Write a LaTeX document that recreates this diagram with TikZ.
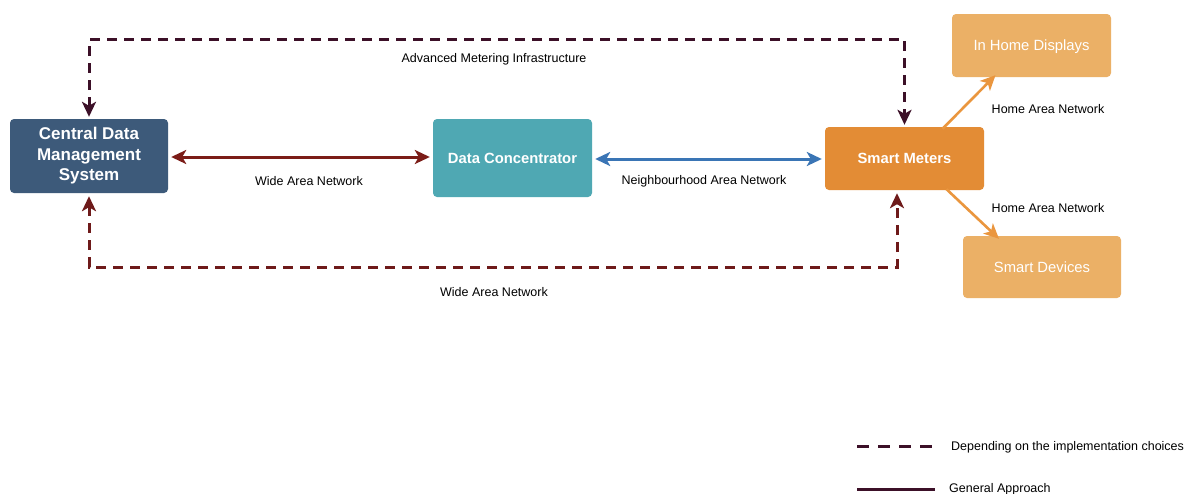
\documentclass[tikz,border=0pt]{standalone}
\usepackage{fontspec}
\setmainfont{Liberation Sans}
\usetikzlibrary{arrows.meta}

\definecolor{cdmsblue}{HTML}{3D5A7A}
\definecolor{dcteal}{HTML}{4FA8B3}
\definecolor{smorange}{HTML}{E38C35}
\definecolor{homeorange}{HTML}{EBB066}
\definecolor{wanred}{HTML}{7B1C17}
\definecolor{nanblue}{HTML}{3A75B5}
\definecolor{amiplum}{HTML}{3C1028}
\definecolor{wandash}{HTML}{6E1A1A}
\definecolor{hanorange}{HTML}{EA963E}

\tikzset{
  box/.style={rounded corners=4pt, inner sep=0pt, align=center, text=white},
  onerow/.style={text depth=0pt},
  mainbox/.style={box, font=\fontsize{14.8}{17}\selectfont\bfseries},
  homebox/.style={box, onerow, fill=homeorange, minimum width=159pt, minimum height=63pt,
                  font=\fontsize{14.8}{17}\selectfont},
  lbl/.style={font=\fontsize{12.5}{15}\selectfont, text=black, inner sep=0pt},
  tip/.style={-{Stealth[length=15pt,width=14pt,inset=4pt]}},
  bitip/.style={{Stealth[length=15pt,width=14pt,inset=4pt]}-{Stealth[length=15pt,width=14pt,inset=4pt]}},
  link/.style={line width=3pt},
  dashlink/.style={line width=3pt, dash pattern=on 10pt off 7pt},
}

\begin{document}
\begin{tikzpicture}[x=1pt, y=-1pt]
  \fill[white] (0,0) rectangle (1189,493);
  \useasboundingbox (0,0) rectangle (1189,493);

  % component boxes
  \node[mainbox, fill=cdmsblue, minimum width=158pt, minimum height=74pt,
        font=\fontsize{17}{20.5}\selectfont\bfseries]
       (cdms) at (89,156) {Central Data\\Management\\System};
  \node[mainbox, onerow, fill=dcteal, minimum width=159pt, minimum height=78pt]
       (dc) at (512.5,158) {Data Concentrator};
  \node[mainbox, onerow, fill=smorange, minimum width=159pt, minimum height=63pt]
       (sm) at (904.5,158.5) {Smart Meters};
  \node[homebox] (ihd) at (1031.5,45.5) {In Home Displays};
  \node[homebox, minimum width=158pt, minimum height=62pt] (sd) at (1042,267) {Smart Devices};

  % general approach links
  \draw[link, wanred, bitip, shorten <=3pt, shorten >=3pt] (cdms.east |- 0,157) -- (dc.west |- 0,157);
  \draw[link, nanblue, bitip, shorten <=3pt, shorten >=3pt] (dc.east |- 0,159) -- (sm.west |- 0,159);
  \draw[line width=2.6pt, hanorange, tip] ([xshift=38pt,yshift=-2pt]sm.north) -- ([xshift=-36pt,yshift=2pt]ihd.south);
  \draw[line width=2.6pt, hanorange, tip] ([xshift=42pt,yshift=1pt]sm.south) -- ([xshift=-43pt,yshift=-3pt]sd.north);

  % implementation-dependent links
  \draw[dashlink, amiplum, bitip, shorten <=2pt, shorten >=2pt]
       (cdms.north) -- ++(0,-79) -| (sm.north);
  \draw[dashlink, wandash, bitip, shorten <=3pt, shorten >=3pt]
       (cdms.south) -- ++(0,74) -| ([xshift=-7.5pt]sm.south);

  % link labels
  \node[lbl] (lami) at (494,59.5) {Advanced Metering Infrastructure};
  \node[lbl] (lwan1) at (309,181.5) {Wide Area Network};
  \node[lbl] (lnan) at (704,181.5) {Neighbourhood Area Network};
  \node[lbl] (lwan2) at (494,292.5) {Wide Area Network};
  \node[lbl] (lhan1) at (1048,109.5) {Home Area Network};
  \node[lbl] (lhan2) at (1048,208.5) {Home Area Network};

  % legend
  \coordinate (ldA) at (857,446);
  \coordinate (ldB) at (935,446);
  \draw[line width=3pt, amiplum, dash pattern=on 12pt off 9pt] (ldA) -- (ldB);
  \node[lbl, anchor=west] (ldtxt) at (951,447) {Depending on the implementation choices};
  \coordinate (lsA) at (857,489);
  \coordinate (lsB) at (935,489);
  \draw[line width=3pt, amiplum] (lsA) -- (lsB);
  \node[lbl, anchor=west] (lstxt) at (949,489.5) {General Approach};
\end{tikzpicture}
\end{document}
